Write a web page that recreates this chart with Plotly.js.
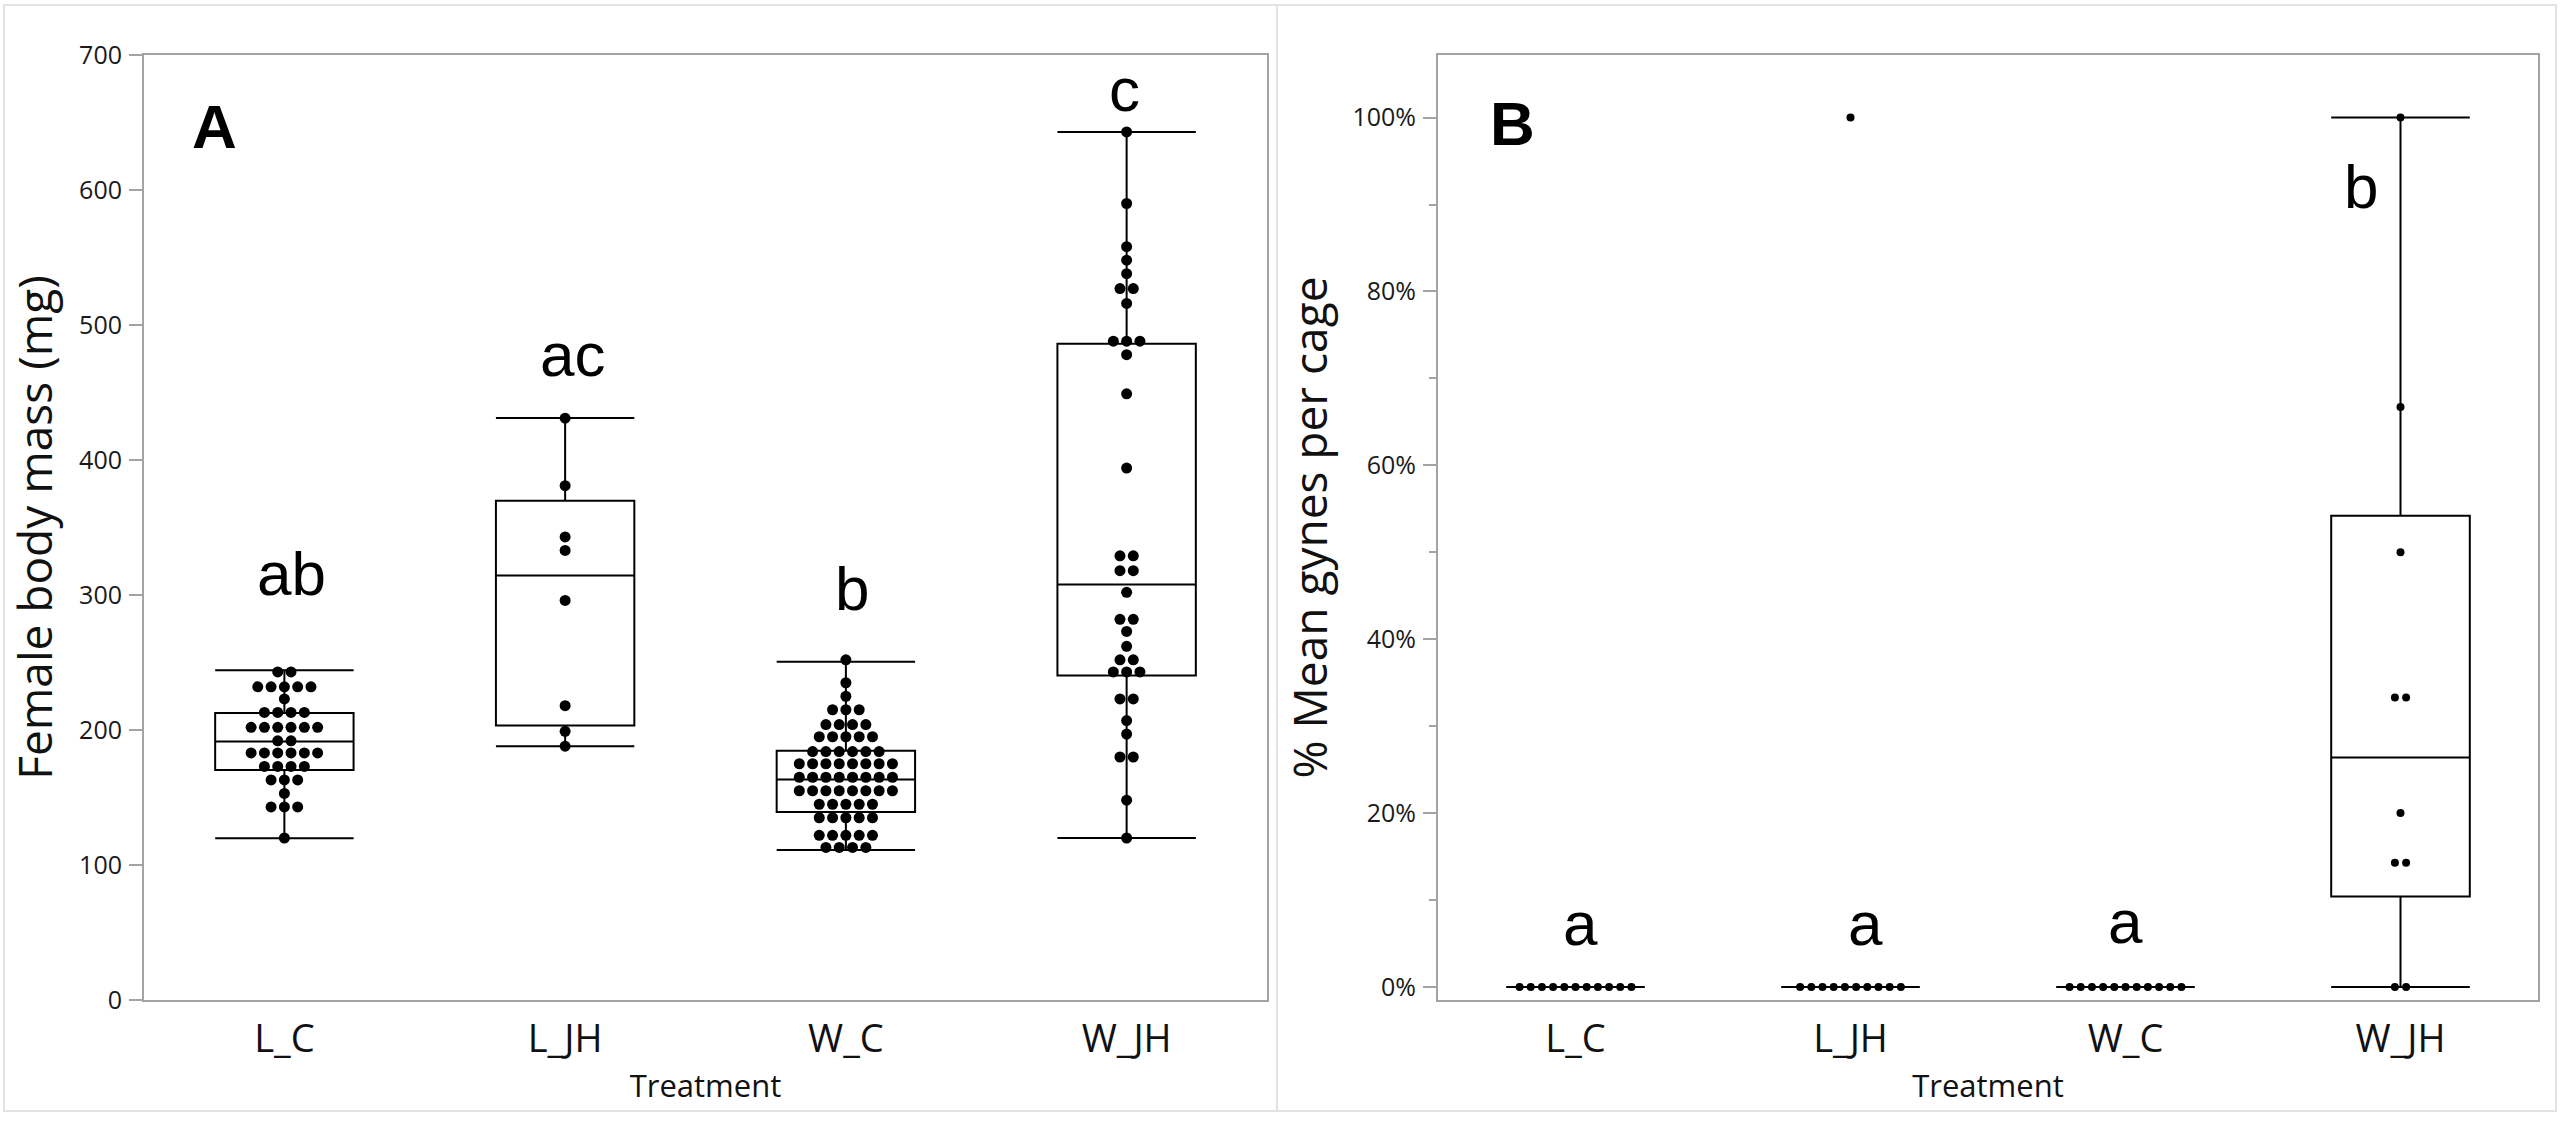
<!DOCTYPE html>
<html>
<head>
<meta charset="utf-8">
<script src="https://cdn.plot.ly/plotly-3.0.1.min.js"></script>
<style>
  html, body { margin: 0; padding: 0; background: #ffffff; }
  #chart { width: 2560px; height: 1122px; }
</style>
</head>
<body>
<div id="chart"></div>
<script>
// Treatment groups shown on both panels
const categories = ['L_C', 'L_JH', 'W_C', 'W_JH'];

// Panel A: female body mass (mg), one value per female
const massLC = [243, 243, 232, 232, 232, 232, 232, 223, 213, 213, 213, 213,
  202, 202, 202, 202, 202, 202, 192, 192, 183, 183, 183, 183, 183, 183,
  173, 173, 173, 173, 163, 163, 163, 153, 143, 143, 143, 120];
const massLJH = [431, 381, 343, 333, 296, 218, 199, 188];
const massWC = [252, 235, 225, 215, 215, 215, 204, 204, 204, 204,
  195, 195, 195, 195, 195, 184, 184, 184, 184, 184, 184,
  175, 175, 175, 175, 175, 175, 175, 175, 165, 165, 165, 165, 165, 165, 165, 165,
  155, 155, 155, 155, 155, 155, 155, 155, 145, 145, 145, 145, 145,
  135, 135, 135, 135, 135, 122, 122, 122, 122, 122, 113, 113, 113, 113];
const massWJH = [643, 590, 558, 548, 538, 527, 527, 516, 488, 488, 488, 478,
  449, 394, 329, 329, 318, 318, 302, 282, 282, 273, 262, 252, 252,
  243, 243, 243, 223, 223, 207, 197, 180, 180, 148, 120];

// Panel A quantile summaries (whisker ends, quartiles, median)
const massLow = [119.8, 188.0, 111.1, 120.0];
const massQ1 = [170.4, 203.3, 139.3, 240.4];
const massMedian = [191.4, 314.4, 163.4, 307.8];
const massQ3 = [212.5, 369.9, 184.7, 486.2];
const massHigh = [244.3, 431.2, 250.5, 642.9];

// Panel B: mean gynes per cage (%), one value per cage
const gyneLC = [0, 0, 0, 0, 0, 0, 0, 0, 0, 0, 0];
const gyneLJH = [0, 0, 0, 0, 0, 0, 0, 0, 0, 0, 100];
const gyneWC = [0, 0, 0, 0, 0, 0, 0, 0, 0, 0, 0];
const gyneWJH = [0, 0, 14.3, 14.3, 20, 33.3, 33.3, 50, 66.7, 100];

// Panel B quantile summaries (the 100% cage in L_JH is an outlier)
const gyneLow = [0, 0, 0, 0];
const gyneQ1 = [0, 0, 0, 10.4];
const gyneMedian = [0, 0, 0, 26.4];
const gyneQ3 = [0, 0, 0, 54.2];
const gyneHigh = [0, 0, 0, 100];

// Axis ticks
const massTicks = [0, 100, 200, 300, 400, 500, 600, 700];
const gyneTicks = [0, 20, 40, 60, 80, 100];

// Significance groups
const massLetters = ['ab', 'ac', 'b', 'c'];
const gyneLetters = ['a', 'a', 'a', 'b'];

// ---- drawing ----
const positions = categories.map((c, i) => i);

// Equal values sit side by side in a row centred on the group
function swarm(values, center, step) {
  const counts = {};
  values.forEach(v => { counts[v] = (counts[v] || 0) + 1; });
  const seen = {};
  return values.map(v => {
    seen[v] = seen[v] === undefined ? 0 : seen[v] + 1;
    return center + (seen[v] - (counts[v] - 1) / 2) * step;
  });
}

function dotTrace(groups, step, size, xa, ya) {
  const xs = [], ys = [];
  groups.forEach((vals, i) => {
    swarm(vals, i, step).forEach(x => xs.push(x));
    vals.forEach(v => ys.push(v));
  });
  return {
    type: 'scatter', mode: 'markers', x: xs, y: ys,
    marker: { color: '#000000', size: size, line: { width: 0 } },
    xaxis: xa, yaxis: ya, hoverinfo: 'y', showlegend: false
  };
}

function boxTrace(low, q1, med, q3, high, w, xa, ya) {
  return {
    type: 'box', x: positions, q1: q1, median: med, q3: q3,
    lowerfence: low, upperfence: high,
    width: w, whiskerwidth: 1, boxpoints: false,
    line: { color: '#000000', width: 2 }, fillcolor: 'rgba(0,0,0,0)',
    xaxis: xa, yaxis: ya, hoverinfo: 'skip', showlegend: false
  };
}

const traces = [
  boxTrace(massLow, massQ1, massMedian, massQ3, massHigh, 0.493, 'x', 'y'),
  dotTrace([massLC, massLJH, massWC, massWJH], 0.0474, 11, 'x', 'y'),
  boxTrace(gyneLow, gyneQ1, gyneMedian, gyneQ3, gyneHigh, 0.504, 'x2', 'y2'),
  dotTrace([gyneLC, gyneLJH, gyneWC, gyneWJH], 0.0407, 8, 'x2', 'y2')
];

const W = 2560, H = 1122;
const axisGray = '#a3a3a3';
const sans = 'Open Sans, Noto Sans, sans-serif';
const tickFont = { family: sans, size: 25, color: '#1a1a1a' };
const catFont = { family: sans, size: 38, color: '#111111' };
const titleFont = { family: sans, size: 31, color: '#111111' };
const yTitleFont = { family: sans, size: 46, color: '#111111' };

function xAxis(domain, anchor) {
  return {
    domain: domain, anchor: anchor, range: [-0.5, 3.5],
    tickmode: 'array', tickvals: positions, ticktext: categories,
    ticks: '', tickfont: catFont, ticklabelstandoff: 4,
    showline: true, mirror: true, linecolor: axisGray, linewidth: 2,
    showgrid: false, zeroline: false, fixedrange: true,
    title: { text: 'Treatment', font: titleFont, standoff: 14 }, automargin: false
  };
}

const yDomain = [1 - 1000 / H, 1 - 55 / H];

const layout = {
  width: W, height: H,
  margin: { l: 0, r: 0, t: 0, b: 0 },
  paper_bgcolor: '#ffffff', plot_bgcolor: '#ffffff',
  showlegend: false,
  font: { family: sans, color: '#111111' },
  xaxis: xAxis([144 / W, 1267 / W], 'y'),
  xaxis2: xAxis([1438 / W, 2538 / W], 'y2'),
  yaxis: {
    domain: yDomain, anchor: 'x', range: [0, 700],
    tickmode: 'array', tickvals: massTicks, ticktext: massTicks.map(String),
    ticks: 'outside', ticklen: 13, tickwidth: 2, tickcolor: axisGray,
    tickfont: tickFont, ticklabelstandoff: 2,
    showline: true, mirror: true, linecolor: axisGray, linewidth: 2,
    showgrid: false, zeroline: false, fixedrange: true,
    title: { text: 'Female body mass (mg)', font: yTitleFont, standoff: 12 }, automargin: false
  },
  yaxis2: {
    domain: yDomain, anchor: 'x2', range: [-1.5, 107.2],
    tickmode: 'array', tickvals: gyneTicks, ticktext: gyneTicks.map(v => v + '%'),
    ticks: 'outside', ticklen: 13, tickwidth: 2, tickcolor: axisGray,
    minor: { dtick: 10, ticks: 'outside', ticklen: 7, tickwidth: 2, tickcolor: axisGray, showgrid: false },
    tickfont: tickFont, ticklabelstandoff: 2,
    showline: true, mirror: true, linecolor: axisGray, linewidth: 2,
    showgrid: false, zeroline: false, fixedrange: true,
    title: { text: '% Mean gynes per cage', font: yTitleFont, standoff: 10 }, automargin: false
  },
  shapes: [
    { type: 'rect', xref: 'paper', yref: 'paper', x0: 4 / W, x1: 1277 / W, y0: 1 - 1111 / H, y1: 1 - 5 / H,
      line: { color: '#e2e2e2', width: 2 }, layer: 'below' },
    { type: 'rect', xref: 'paper', yref: 'paper', x0: 1277 / W, x1: 2556 / W, y0: 1 - 1111 / H, y1: 1 - 5 / H,
      line: { color: '#e2e2e2', width: 2 }, layer: 'below' }
  ],
  annotations: []
};

// Significance letters above each group
const letterFont = { family: 'Liberation Sans, Arial, sans-serif', size: 62, color: '#000000' };
const massLetterX = [0.025, 0.028, 0.023, -0.007];
const massLetterY = [316, 477.8, 304.7, 674.8];
const gyneLetterX = [0.018, 0.055, 0.0, -0.145];
const gyneLetterY = [7.3, 7.3, 7.5, 92.1];
massLetters.forEach((t, i) => layout.annotations.push({
  text: t, x: i + massLetterX[i], y: massLetterY[i], xref: 'x', yref: 'y',
  showarrow: false, font: letterFont, xanchor: 'center', yanchor: 'middle'
}));
gyneLetters.forEach((t, i) => layout.annotations.push({
  text: t, x: i + gyneLetterX[i], y: gyneLetterY[i], xref: 'x2', yref: 'y2',
  showarrow: false, font: letterFont, xanchor: 'center', yanchor: 'middle'
}));

// Panel tags
const tagFont = { family: 'Liberation Sans Narrow, Liberation Sans, Arial, sans-serif', size: 62, color: '#000000', weight: 'bold' };
layout.annotations.push({ text: '<b>A</b>', x: 190 / W, y: 1 - 126 / H, xref: 'paper', yref: 'paper',
  showarrow: false, font: tagFont, xanchor: 'left', yanchor: 'middle' });
layout.annotations.push({ text: '<b>B</b>', x: 1488 / W, y: 1 - 124 / H, xref: 'paper', yref: 'paper',
  showarrow: false, font: tagFont, xanchor: 'left', yanchor: 'middle' });

Plotly.newPlot('chart', traces, layout, { staticPlot: true, displayModeBar: false });
</script>
</body>
</html>
